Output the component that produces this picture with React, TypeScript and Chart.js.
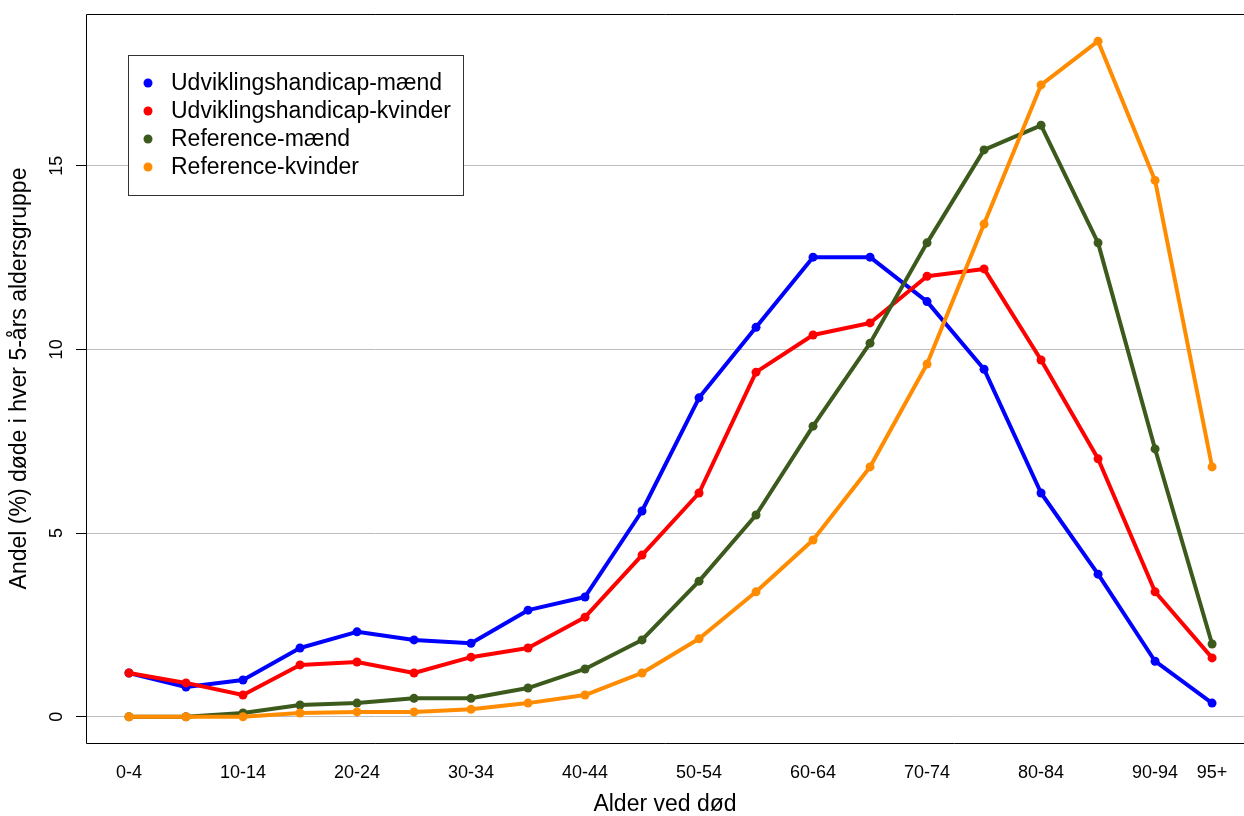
import React, { useEffect, useRef } from "react";
import { Chart, registerables } from "chart.js";

Chart.register(...registerables);

const ageGroups = [
  "0-4", "5-9", "10-14", "15-19", "20-24", "25-29", "30-34", "35-39", "40-44", "45-49",
  "50-54", "55-59", "60-64", "65-69", "70-74", "75-79", "80-84", "85-89", "90-94", "95+",
];
const xTickIndex = [0, 2, 4, 6, 8, 10, 12, 14, 16, 18, 19];
const yTickValues = [0, 5, 10, 15];

const seriesNames = [
  "Udviklingshandicap-mænd",
  "Udviklingshandicap-kvinder",
  "Reference-mænd",
  "Reference-kvinder",
];
const seriesColors = ["#0000ff", "#ff0000", "#3c5a1c", "#ff8c00"];

const udvMaend = [1.19, 0.81, 1.0, 1.87, 2.31, 2.09, 2.0, 2.9, 3.26, 5.6, 8.68, 10.6, 12.51, 12.51, 11.3, 9.46, 6.09, 3.88, 1.51, 0.37];
const udvKvinder = [1.19, 0.92, 0.59, 1.41, 1.49, 1.19, 1.62, 1.87, 2.71, 4.4, 6.09, 9.38, 10.39, 10.72, 11.99, 12.19, 9.71, 7.02, 3.4, 1.6];
const refMaend = [0, 0, 0.1, 0.32, 0.37, 0.5, 0.5, 0.78, 1.3, 2.09, 3.69, 5.49, 7.91, 10.17, 12.9, 15.43, 16.1, 12.9, 7.29, 1.98];
const refKvinder = [0, 0, 0, 0.1, 0.13, 0.13, 0.2, 0.37, 0.59, 1.19, 2.12, 3.4, 4.81, 6.8, 9.6, 13.41, 17.2, 18.39, 14.6, 6.8];

const allSeries = [udvMaend, udvKvinder, refMaend, refKvinder];

const FONT = "'Liberation Sans', Arial, sans-serif";

const framePlugin = {
  id: "frame",
  afterDraw(chart: any) {
    const { ctx, chartArea } = chart;
    const l = Math.floor(chartArea.left) + 0.5;
    const t = Math.floor(chartArea.top) + 0.5;
    const b = Math.floor(chartArea.bottom) + 0.5;
    const r = chart.width;
    ctx.save();
    ctx.strokeStyle = "#000";
    ctx.lineWidth = 1;
    ctx.beginPath();
    ctx.moveTo(r, t);
    ctx.lineTo(l, t);
    ctx.lineTo(l, b);
    ctx.lineTo(r, b);
    ctx.stroke();

    // legend box
    const bx = 128.5, by = 55.5, bw = 335, bh = 140;
    ctx.fillStyle = "#fff";
    ctx.fillRect(bx, by, bw, bh);
    ctx.strokeStyle = "#333";
    ctx.strokeRect(bx, by, bw, bh);
    ctx.font = `23px ${FONT}`;
    ctx.textBaseline = "middle";
    ctx.textAlign = "left";
    chart.data.datasets.forEach((ds: any, i: number) => {
      const cy = 83 + i * 28;
      ctx.fillStyle = ds.borderColor;
      ctx.beginPath();
      ctx.arc(148, cy, 4.5, 0, Math.PI * 2);
      ctx.fill();
      ctx.fillStyle = "#000";
      ctx.fillText(ds.label, 171, cy + 1);
    });
    ctx.restore();
  },
};

export default function App() {
  const ref = useRef<HTMLCanvasElement>(null);
  useEffect(() => {
    if (!ref.current) return;
    const datasets = allSeries.map((vals, i) => ({
      label: seriesNames[i],
      data: vals.map((v, j) => ({ x: j, y: v })),
      borderColor: seriesColors[i],
      backgroundColor: seriesColors[i],
      borderWidth: 4,
      pointRadius: 4.5,
      pointHoverRadius: 4.5,
      pointBorderWidth: 0,
      borderJoinStyle: "round" as const,
      borderCapStyle: "round" as const,
      tension: 0,
      fill: false,
      order: 3 - i,
    }));
    const chart = new Chart(ref.current, {
      type: "line",
      data: { datasets },
      plugins: [framePlugin],
      options: {
        responsive: false,
        animation: false,
        devicePixelRatio: 1,
        layout: { autoPadding: false, padding: { top: 14, left: 0, right: 0, bottom: 0 } },
        plugins: { legend: { display: false }, tooltip: { enabled: false } },
        scales: {
          x: {
            type: "linear",
            min: -0.754,
            max: 19.56,
            grid: { display: false, drawTicks: false },
            border: { display: false },
            afterBuildTicks: (scale: any) => {
              scale.ticks = xTickIndex.map((v) => ({ value: v }));
            },
            afterFit: (scale: any) => {
              scale.height = 73;
              scale.paddingLeft = 0;
              scale.paddingRight = 0;
            },
            ticks: {
              autoSkip: false,
              maxRotation: 0,
              minRotation: 0,
              padding: 19,
              color: "#000",
              font: { family: FONT, size: 18 },
              callback: (v: any) => ageGroups[v as number] ?? "",
            },
            title: {
              display: true,
              text: "Alder ved død",
              color: "#000",
              font: { family: FONT, size: 23, lineHeight: 1 },
              padding: { top: 0, bottom: 0 },
            },
          },
          y: {
            type: "linear",
            min: -0.716,
            max: 19.13,
            grid: { color: "#bebebe", lineWidth: 1, tickColor: "#000", tickLength: 10, drawTicks: true },
            border: { display: false },
            afterBuildTicks: (scale: any) => {
              scale.ticks = yTickValues.map((v) => ({ value: v }));
            },
            afterFit: (scale: any) => {
              scale.width = 86;
              scale.paddingTop = 0;
              scale.paddingBottom = 0;
            },
            ticks: {
              minRotation: 90,
              maxRotation: 90,
              crossAlign: "center",
              padding: 9,
              color: "#000",
              font: { family: FONT, size: 18 },
              callback: (v: any) => String(v),
            },
            title: {
              display: true,
              text: "Andel (%) døde i hver 5-års aldersgruppe",
              color: "#000",
              font: { family: FONT, size: 23, lineHeight: 1 },
              padding: { top: 8, bottom: 0 },
            },
          },
        },
      },
    });
    return () => chart.destroy();
  }, []);
  return (
    <div style={{ position: "fixed", left: 0, top: 0, width: 1244, height: 816, background: "#fff" }}>
      <canvas ref={ref} width={1244} height={816} style={{ width: 1244, height: 816, display: "block" }} />
    </div>
  );
}
